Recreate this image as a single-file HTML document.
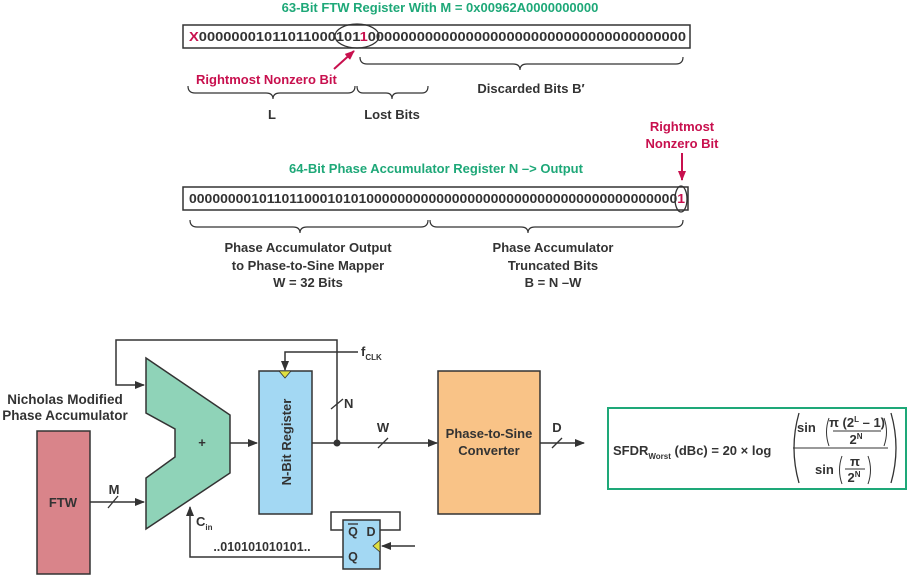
<!DOCTYPE html>
<html><head><meta charset="utf-8"><style>
html,body{margin:0;padding:0;background:#fff}
svg{display:block}
text{font-family:"Liberation Sans",Arial,sans-serif;font-weight:bold;fill:#333}
.g{fill:#1ea878}.r{fill:#c8104e}
</style></head><body>
<svg width="907" height="576" viewBox="0 0 907 576" xmlns="http://www.w3.org/2000/svg">
<defs>
<marker id="a" markerWidth="10" markerHeight="8" refX="9" refY="4" orient="auto" markerUnits="userSpaceOnUse"><path d="M0,0 L10,4 L0,8 z" fill="#333"/></marker>
<marker id="ar" markerWidth="10" markerHeight="8" refX="9" refY="4" orient="auto" markerUnits="userSpaceOnUse"><path d="M0,0 L10,4 L0,8 z" fill="#c8104e"/></marker>
</defs>
<!-- top register -->
<text x="440" y="12" text-anchor="middle" class="g" font-size="13">63-Bit FTW Register With M = 0x00962A0000000000</text>
<rect x="183" y="25" width="507" height="23" fill="#fff" stroke="#333" stroke-width="1.5"/>
<text x="189" y="41" font-size="12.5" textLength="497" lengthAdjust="spacingAndGlyphs"><tspan class="r">X</tspan>00000001011011000101<tspan class="r">1</tspan>000000000000000000000000000000000000000</text>
<ellipse cx="357" cy="36" rx="22" ry="12" fill="none" stroke="#333" stroke-width="1.3"/>
<line x1="334" y1="69" x2="354" y2="51" stroke="#c8104e" stroke-width="2" marker-end="url(#ar)"/>
<text x="196" y="84" class="r" font-size="13">Rightmost Nonzero Bit</text>
<g fill="none" stroke="#333" stroke-width="1.2">
<path d="M360,57 q0,7 7,7 h146 q7,0 7,6 q0,-6 7,-6 h149 q7,0 7,-7"/>
<path d="M188,86 q0,7 7,7 h71 q7,0 7,6 q0,-6 7,-6 h68 q7,0 7,-7"/>
<path d="M357,86 q0,7 6,7 h23 q6,0 6,6 q0,-6 6,-6 h24 q6,0 6,-7"/>
<path d="M190,220 q0,7 7,7 h96 q7,0 7,6 q0,-6 7,-6 h114 q7,0 7,-7"/>
<path d="M430,220 q0,7 7,7 h84 q7,0 7,6 q0,-6 7,-6 h141 q7,0 7,-7"/>
</g>
<text x="531" y="93" text-anchor="middle" font-size="13">Discarded Bits B′</text>
<text x="272" y="119" text-anchor="middle" font-size="13">L</text>
<text x="392" y="119" text-anchor="middle" font-size="13">Lost Bits</text>
<!-- second register -->
<text x="682" y="131" text-anchor="middle" class="r" font-size="13">Rightmost</text>
<text x="682" y="148" text-anchor="middle" class="r" font-size="13">Nonzero Bit</text>
<line x1="682" y1="153" x2="682" y2="180" stroke="#c8104e" stroke-width="2" marker-end="url(#ar)"/>
<text x="436" y="173" text-anchor="middle" class="g" font-size="13">64-Bit Phase Accumulator Register N –&gt; Output</text>
<rect x="183" y="187" width="505" height="23" fill="#fff" stroke="#333" stroke-width="1.5"/>
<text x="189" y="203" font-size="12.5" textLength="496" lengthAdjust="spacingAndGlyphs">000000001011011000101010000000000000000000000000000000000000000<tspan class="r">1</tspan></text>
<ellipse cx="681" cy="199" rx="6" ry="13" fill="none" stroke="#333" stroke-width="1.3"/>
<text x="308" y="252" text-anchor="middle" font-size="13">Phase Accumulator Output</text>
<text x="308" y="270" text-anchor="middle" font-size="13">to Phase-to-Sine Mapper</text>
<text x="308" y="287" text-anchor="middle" font-size="13">W = 32 Bits</text>
<text x="553" y="252" text-anchor="middle" font-size="13">Phase Accumulator</text>
<text x="553" y="270" text-anchor="middle" font-size="13">Truncated Bits</text>
<text x="553" y="287" text-anchor="middle" font-size="13">B = N –W</text>
<!-- block diagram -->
<text x="65" y="404" text-anchor="middle" font-size="13.5">Nicholas Modified</text>
<text x="65" y="420" text-anchor="middle" font-size="13.5">Phase Accumulator</text>
<rect x="37" y="431" width="53" height="143" fill="#d9848a" stroke="#333" stroke-width="1.5"/>
<text x="63" y="507" text-anchor="middle" font-size="13">FTW</text>
<line x1="90" y1="502" x2="144" y2="502" stroke="#333" stroke-width="1.5" marker-end="url(#a)"/>
<line x1="108" y1="508" x2="118" y2="496" stroke="#333" stroke-width="1.3"/>
<text x="114" y="494" text-anchor="middle" font-size="13">M</text>
<polygon points="146,358 230,415 230,473 146,529 146,478 175,457 175,429 146,413" fill="#8fd3b8" stroke="#333" stroke-width="1.5"/>
<text x="202" y="447" text-anchor="middle" font-size="13">+</text>
<path d="M337,443 V340 H116 V385 H144" fill="none" stroke="#333" stroke-width="1.5" marker-end="url(#a)"/>
<line x1="230" y1="443" x2="257" y2="443" stroke="#333" stroke-width="1.5" marker-end="url(#a)"/>
<rect x="259" y="371" width="53" height="143" fill="#a3d8f3" stroke="#333" stroke-width="1.5"/>
<text transform="translate(291,442) rotate(-90)" text-anchor="middle" font-size="13">N-Bit Register</text>
<polygon points="279,371 291,371 285,378" fill="#e0e040" stroke="#333" stroke-width="0.8"/>
<path d="M358,352 H285 V370" fill="none" stroke="#333" stroke-width="1.5" marker-end="url(#a)"/>
<text x="361" y="356" font-size="13">f<tspan font-size="8" dy="4">CLK</tspan></text>
<line x1="312" y1="443" x2="437" y2="443" stroke="#333" stroke-width="1.5" marker-end="url(#a)"/>
<circle cx="337" cy="443" r="3.5" fill="#333"/>
<line x1="331" y1="409" x2="343" y2="399" stroke="#333" stroke-width="1.3"/>
<text x="344" y="408" font-size="13">N</text>
<line x1="378" y1="448" x2="388" y2="438" stroke="#333" stroke-width="1.3"/>
<text x="383" y="432" text-anchor="middle" font-size="13">W</text>
<rect x="438" y="371" width="102" height="143" fill="#f9c387" stroke="#333" stroke-width="1.5"/>
<text x="489" y="438" text-anchor="middle" font-size="13">Phase-to-Sine</text>
<text x="489" y="455" text-anchor="middle" font-size="13">Converter</text>
<line x1="540" y1="443" x2="584" y2="443" stroke="#333" stroke-width="1.5" marker-end="url(#a)"/>
<line x1="552" y1="448" x2="562" y2="438" stroke="#333" stroke-width="1.3"/>
<text x="557" y="432" text-anchor="middle" font-size="13">D</text>
<!-- carry -->
<path d="M343,557 H190 V507" fill="none" stroke="#333" stroke-width="1.5" marker-end="url(#a)"/>
<text x="196" y="526" font-size="13">C<tspan font-size="8" dy="4">in</tspan></text>
<text x="262" y="551" text-anchor="middle" font-size="12.5">..010101010101..</text>
<path d="M343,530 H331 V512 H400 V530 H380" fill="none" stroke="#333" stroke-width="1.5"/>
<rect x="343" y="520" width="37" height="49" fill="#a3d8f3" stroke="#333" stroke-width="1.5"/>
<text x="353" y="536" text-anchor="middle" font-size="12.5">Q</text>
<line x1="348" y1="524" x2="358" y2="524" stroke="#333" stroke-width="1.3"/>
<text x="371" y="536" text-anchor="middle" font-size="12.5">D</text>
<text x="353" y="561" text-anchor="middle" font-size="12.5">Q</text>
<polygon points="380,540 380,552 373,546" fill="#e0e040" stroke="#333" stroke-width="0.8"/>
<line x1="415" y1="546" x2="382" y2="546" stroke="#333" stroke-width="1.5" marker-end="url(#a)"/>
<!-- formula -->
<rect x="608" y="408" width="298" height="81" fill="#fff" stroke="#1ea878" stroke-width="2"/>
<text x="613" y="455" font-size="13">SFDR<tspan font-size="8" dy="4">Worst</tspan><tspan dy="-4"> (dBc) = 20 × log</tspan></text>
<path d="M799,413 q-10,35 0,70" fill="none" stroke="#333" stroke-width="1.3"/>
<path d="M891,413 q10,35 0,70" fill="none" stroke="#333" stroke-width="1.3"/>
<text x="797" y="432" font-size="13">sin</text>
<path d="M829,418 q-5,14 0,28" fill="none" stroke="#333" stroke-width="1"/>
<path d="M884,418 q5,14 0,28" fill="none" stroke="#333" stroke-width="1"/>
<text x="857" y="427" text-anchor="middle" font-size="13">π (2<tspan font-size="8" dy="-5">L</tspan><tspan dy="5"> – 1)</tspan></text>
<line x1="833" y1="431" x2="881" y2="431" stroke="#333" stroke-width="1"/>
<text x="856" y="444" text-anchor="middle" font-size="13">2<tspan font-size="8" dy="-5">N</tspan></text>
<line x1="793" y1="448" x2="888" y2="448" stroke="#333" stroke-width="1"/>
<text x="815" y="474" font-size="13">sin</text>
<path d="M842,456 q-5,14 0,28" fill="none" stroke="#333" stroke-width="1"/>
<path d="M868,456 q5,14 0,28" fill="none" stroke="#333" stroke-width="1"/>
<text x="855" y="466" text-anchor="middle" font-size="13">π</text>
<line x1="845" y1="469" x2="865" y2="469" stroke="#333" stroke-width="1"/>
<text x="854" y="482" text-anchor="middle" font-size="13">2<tspan font-size="8" dy="-5">N</tspan></text>
</svg>
</body></html>
